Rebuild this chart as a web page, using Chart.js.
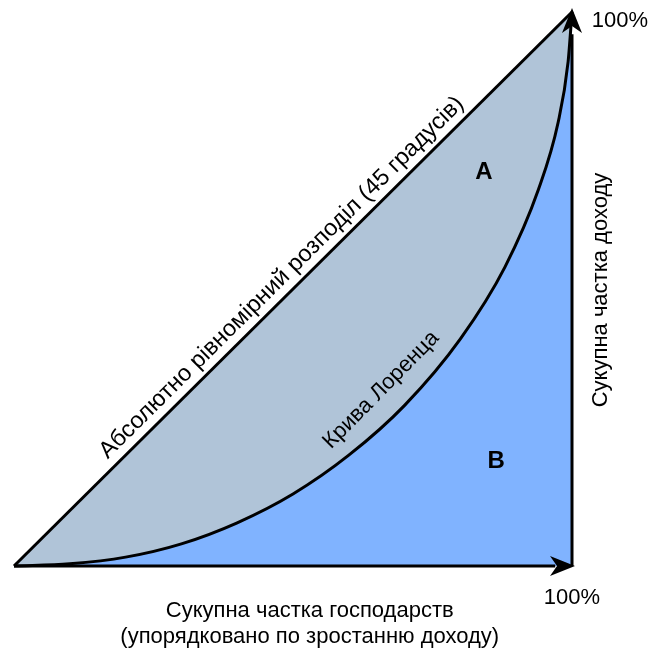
<!DOCTYPE html>
<html>
<head>
<meta charset="utf-8">
<script src="https://cdn.jsdelivr.net/npm/chart.js@4"></script>
<style>
html,body{margin:0;padding:0;background:#fff;}
#wrap{width:650px;height:650px;}
</style>
</head>
<body>
<div id="wrap"><canvas id="c" width="650" height="650"></canvas></div>
<script>
// ---- data ----
const populationShare = [0, 0.10, 0.20, 0.30, 0.40, 0.50, 0.60, 0.70, 0.80, 0.88, 0.94, 0.975, 0.993, 1.0];
const incomeShare     = [0, 0.004, 0.016, 0.040, 0.078, 0.130, 0.200, 0.290, 0.410, 0.540, 0.680, 0.800, 0.910, 1.0];
const equalityX = [0, 1];
const equalityY = [0, 1];
const equalityLabel = 'Абсолютно рівномірний розподіл (45 градусів)';
const lorenzLabel = 'Крива Лоренца';
const xAxisTitle = ['Сукупна частка господарств', '(упорядковано по зростанню доходу)'];
const yAxisTitle = 'Сукупна частка доходу';
const maxTickLabel = '100%';
const areaLabels = ['A', 'B'];

const toPts = (xs, ys) => xs.map((x, i) => ({x, y: ys[i]}));
const FONT = '"Liberation Sans", Arial, sans-serif';

const annotate = {
  id: 'annotate',
  afterDatasetsDraw(chart) {
    const ctx = chart.ctx;
    const xs = chart.scales.x, ys = chart.scales.y;
    const x0 = xs.getPixelForValue(0), x1 = xs.getPixelForValue(1);
    const y0 = ys.getPixelForValue(0), y1 = ys.getPixelForValue(1);
    ctx.save();
    ctx.fillStyle = '#000';
    // arrowheads
    function arrow(tx, ty, ang) {
      ctx.save();
      ctx.translate(tx, ty);
      ctx.rotate(ang);
      ctx.beginPath();
      ctx.moveTo(2, 0);
      ctx.lineTo(-23, -10);
      ctx.lineTo(-16, 0);
      ctx.lineTo(-23, 10);
      ctx.closePath();
      ctx.fill();
      ctx.restore();
    }
    arrow(x1, y1 - 2, -Math.PI / 2);
    arrow(x1 + 1, y0, 0);

    // diagonal label
    const ang = Math.atan2(y1 - y0, x1 - x0);
    const t = 0.5;
    let cx = x0 + (x1 - x0) * t, cy = y0 + (y1 - y0) * t;
    const nx = Math.sin(ang), ny = -Math.cos(ang); // perpendicular (up-left)
    ctx.save();
    ctx.translate(cx + nx * 16, cy + ny * 16);
    ctx.rotate(ang);
    ctx.font = '23.5px ' + FONT;
    ctx.textAlign = 'center';
    ctx.textBaseline = 'middle';
    ctx.fillText(equalityLabel, 0, 0);
    ctx.restore();

    // lorenz label
    ctx.save();
    ctx.translate(x0 + (x1 - x0) * 0.658, y0 + (y1 - y0) * 0.318);
    ctx.rotate(-45.5 * Math.PI / 180);
    ctx.font = '22px ' + FONT;
    ctx.textAlign = 'center';
    ctx.textBaseline = 'middle';
    ctx.fillText(lorenzLabel, 0, 0);
    ctx.restore();

    // area labels
    ctx.font = 'bold 24px ' + FONT;
    ctx.textAlign = 'center';
    ctx.textBaseline = 'middle';
    ctx.fillText(areaLabels[0], x0 + (x1 - x0) * 0.842, y0 + (y1 - y0) * 0.711);
    ctx.fillText(areaLabels[1], x0 + (x1 - x0) * 0.864, y0 + (y1 - y0) * 0.188);

    // 100% labels
    ctx.font = '22px ' + FONT;
    ctx.fillText(maxTickLabel, x1 + 48, y1 + 9);
    ctx.fillText(maxTickLabel, x1, y0 + 32);

    // x axis title
    const midX = x0 + (x1 - x0) * 0.53;
    ctx.fillText(xAxisTitle[0], midX, y0 + 45);
    ctx.fillText(xAxisTitle[1], midX, y0 + 71);

    // y axis title
    ctx.save();
    ctx.translate(x1 + 29, (y0 + y1) / 2 + 1);
    ctx.rotate(-Math.PI / 2);
    ctx.fillText(yAxisTitle, 0, 0);
    ctx.restore();
    ctx.restore();
  }
};

new Chart(document.getElementById('c'), {
  type: 'scatter',
  data: {
    datasets: [
      {
        data: toPts(equalityX, equalityY),
        showLine: true, borderColor: '#000', borderWidth: 3,
        pointRadius: 0, fill: '+1', backgroundColor: '#b0c4d8', clip: false, order: 2
      },
      {
        data: toPts(populationShare, incomeShare),
        showLine: true, borderColor: '#000', borderWidth: 3,
        pointRadius: 0, fill: 'origin', backgroundColor: '#80b3ff',
        cubicInterpolationMode: 'monotone', clip: false, order: 1
      },
      {
        data: [{x: 1, y: 0}, {x: 1, y: 0.96}],
        showLine: true, borderColor: '#000', borderWidth: 3,
        pointRadius: 0, fill: false, clip: false, order: 0
      },
      {
        data: [{x: 0, y: 0}, {x: 0.97, y: 0}],
        showLine: true, borderColor: '#000', borderWidth: 3,
        pointRadius: 0, fill: false, clip: false, order: 0
      }
    ]
  },
  options: {
    responsive: false,
    animation: false,
    layout: {padding: {left: 14, right: 78, top: 12, bottom: 84}},
    plugins: {legend: {display: false}, tooltip: {enabled: false}},
    scales: {
      x: {type: 'linear', min: 0, max: 1, display: false},
      y: {type: 'linear', min: 0, max: 1, display: false}
    }
  },
  plugins: [annotate]
});
</script>
</body>
</html>
